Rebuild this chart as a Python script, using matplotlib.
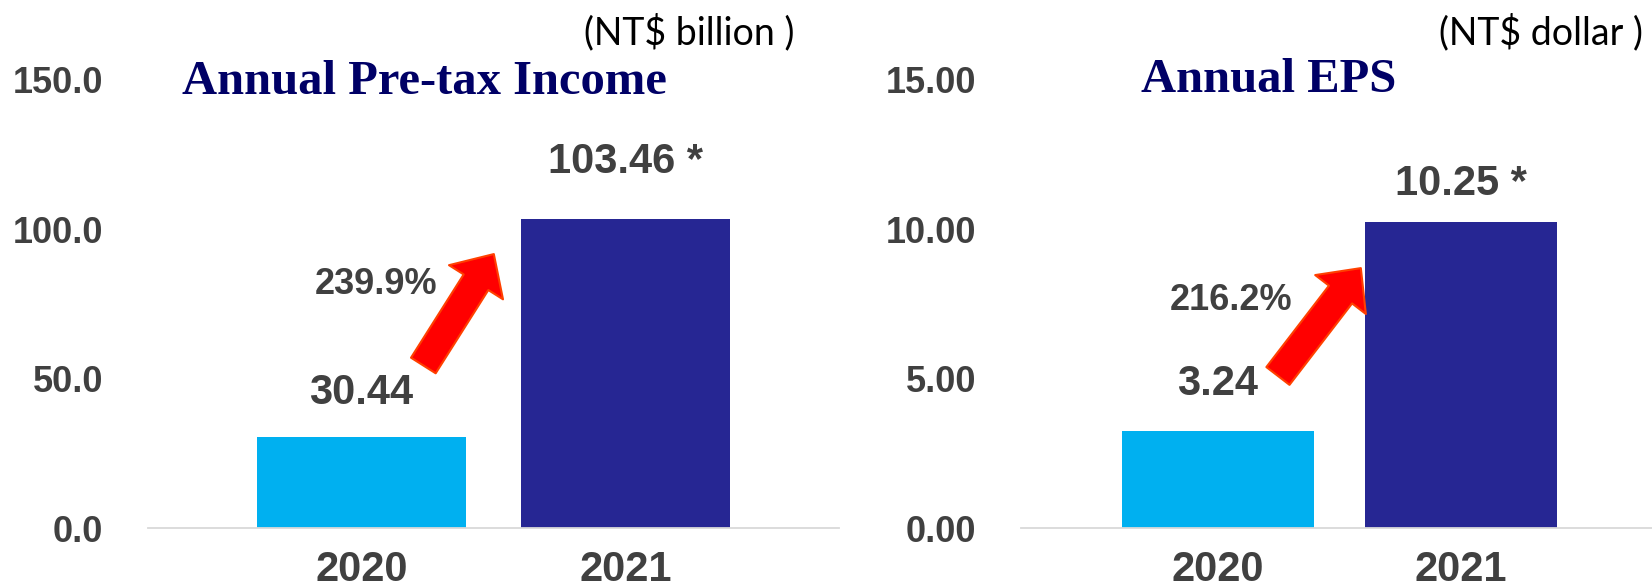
import matplotlib
matplotlib.use("Agg")
import matplotlib.pyplot as plt

# annual figures, 2020 vs 2021
years = ["2020", "2021"]
pretax_income = [30.44, 103.46]
pretax_labels = ["30.44", "103.46 *"]
pretax_growth = "239.9%"
eps = [3.24, 10.25]
eps_labels = ["3.24", "10.25 *"]
eps_growth = "216.2%"

bar_colors = ["#00B0F0", "#262693"]
text_gray = "#404040"
title_navy = "#000066"
num_font = "Liberation Sans"


def draw_panel(ax, values, labels, growth, ymax, fmt, label_offsets,
               growth_pos, arrow_tail, arrow_tip):
    x = list(range(len(values)))
    ax.bar(x, values, width=0.79, color=bar_colors, zorder=2)
    ax.set_xlim(-0.81, 1.81)
    ax.set_ylim(0, ymax)
    ax.set_yticks([0, ymax / 3, 2 * ymax / 3, ymax])
    ax.set_yticklabels([fmt.format(t) for t in ax.get_yticks()])
    ax.set_xticks(x)
    ax.set_xticklabels(years)

    for s in ["top", "left", "right"]:
        ax.spines[s].set_visible(False)
    ax.spines["bottom"].set_color("#d9d9d9")
    ax.spines["bottom"].set_linewidth(1.3)
    ax.tick_params(axis="y", length=0, pad=32, labelsize=26, labelcolor=text_gray)
    ax.tick_params(axis="x", length=0, pad=16, labelsize=30, labelcolor=text_gray)
    for t in ax.get_xticklabels() + ax.get_yticklabels():
        t.set_fontfamily(num_font)
        t.set_fontweight("bold")

    # value labels above the bars
    for xi, v, lab, off in zip(x, values, labels, label_offsets):
        ax.annotate(lab, xy=(xi, v), xytext=(0, off), textcoords="offset points",
                    ha="center", va="center", fontsize=30, fontweight="bold",
                    color=text_gray, family=num_font)

    # growth arrow and percentage
    ax.annotate("", xy=arrow_tip, xytext=arrow_tail,
                arrowprops=dict(arrowstyle="simple,head_length=1.2,head_width=2.3,tail_width=1.05",
                                mutation_scale=20, fc="#ff0000", ec="#ff4000", lw=1.5,
                                shrinkA=0, shrinkB=0))
    ax.text(growth_pos[0], growth_pos[1], growth, ha="center", va="center",
            fontsize=26, fontweight="bold", color=text_gray, family=num_font)


fig = plt.figure(figsize=(16.52, 5.85), dpi=100)
ax1 = fig.add_axes([0.0893, 0.0974, 0.4186, 0.766])
ax2 = fig.add_axes([0.618, 0.0974, 0.3856, 0.766])

draw_panel(ax1, pretax_income, pretax_labels, pretax_growth, 150.0, "{:.1f}",
           [32, 41], (0.057, 81.4), (0.235, 54.4), (0.502, 91.7))
draw_panel(ax2, eps, eps_labels, eps_growth, 15.0, "{:.2f}",
           [34, 27], (0.053, 7.63), (0.247, 5.09), (0.588, 8.70))

fig.text(0.257, 0.86, "Annual Pre-tax Income", ha="center", va="center",
         fontsize=35, fontweight="bold", color=title_navy, family="Liberation Serif")
fig.text(0.768, 0.863, "Annual EPS", ha="center", va="center",
         fontsize=35, fontweight="bold", color=title_navy, family="Liberation Serif")
fig.text(0.417, 0.944, "(NT$ billion )", ha="center", va="center",
         fontsize=27, color="black", family="Lato")
fig.text(0.933, 0.945, "(NT$ dollar )", ha="center", va="center",
         fontsize=27, color="black", family="Lato")

fig.savefig("out.png", dpi=100)
